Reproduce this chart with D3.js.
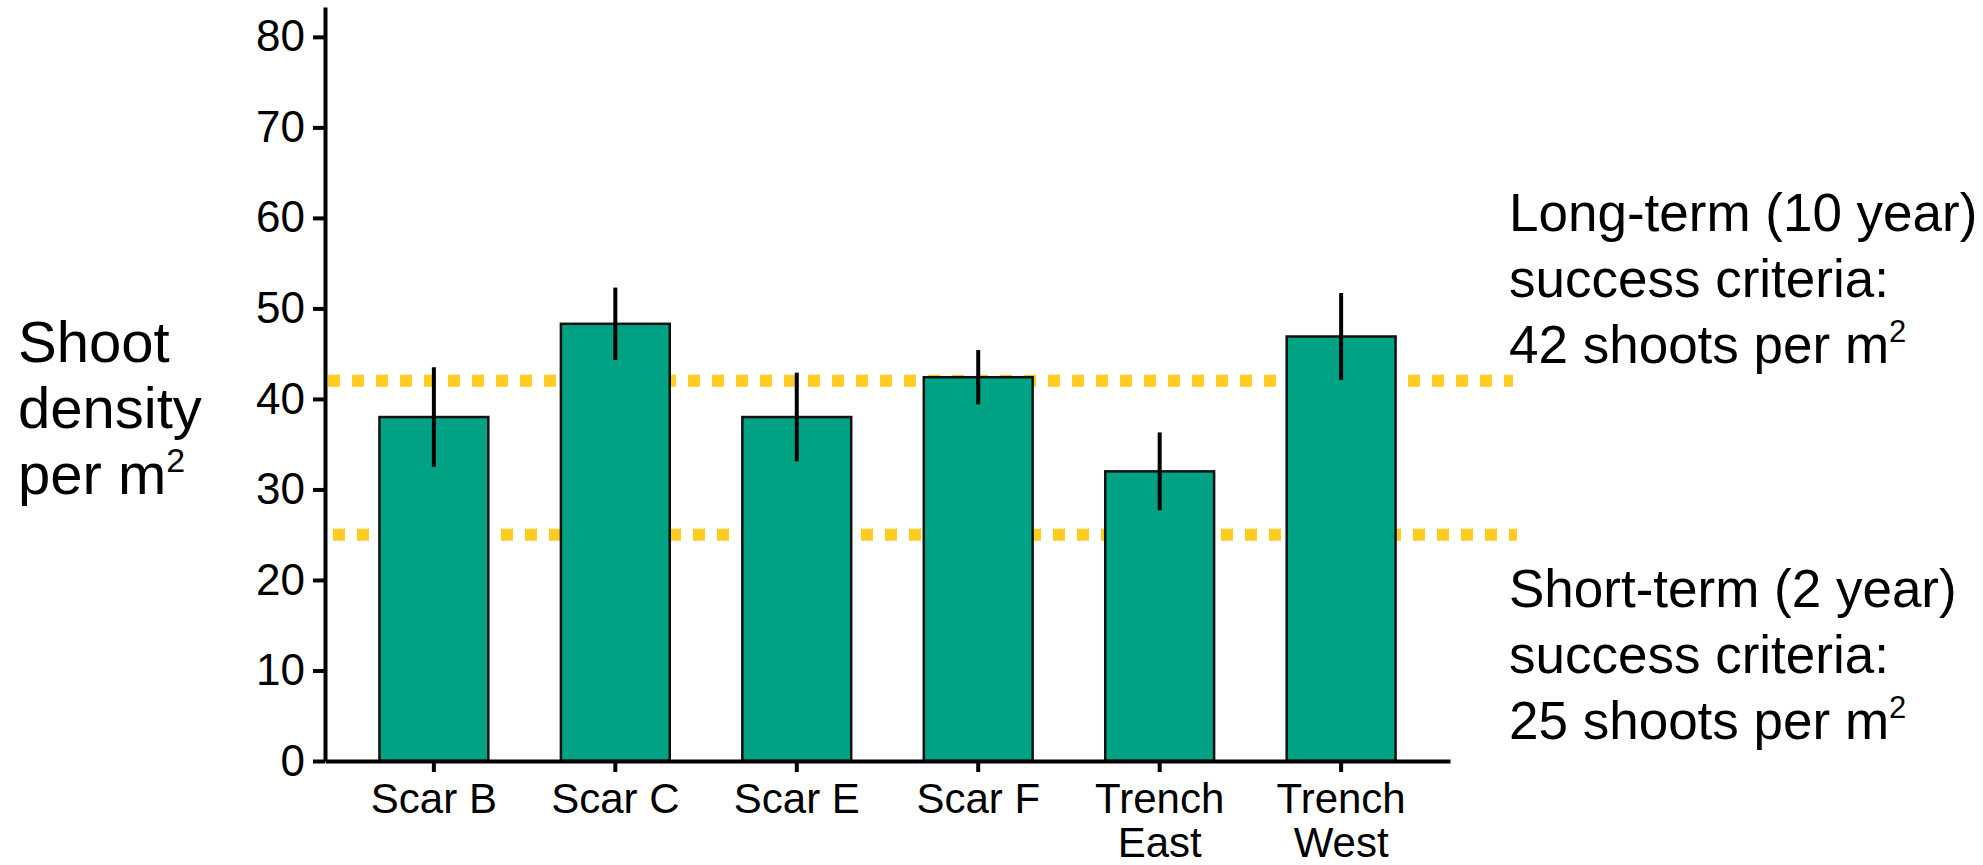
<!DOCTYPE html>
<html>
<head>
<meta charset="utf-8">
<script src="https://cdn.jsdelivr.net/npm/d3@7"></script>
<style>
  html, body { margin: 0; padding: 0; background: #ffffff; }
  svg { display: block; }
  text { font-family: "Liberation Sans", Arial, Helvetica, sans-serif; fill: #000; }
</style>
</head>
<body>
<svg id="chart" width="1983" height="865"></svg>
<script>
// Sites and mean shoot density (shoots per m²) with standard error
const sites = ["Scar B", "Scar C", "Scar E", "Scar F", "Trench East", "Trench West"];
const meanDensity = [38.0, 48.3, 38.0, 42.4, 32.0, 46.9];
const stdError = [5.5, 4.0, 4.9, 3.0, 4.3, 4.8];

// Restoration success thresholds
const thresholdValues = [42, 25];
const thresholdNames = ["Long-term", "Short-term"];
const thresholdLabels = [
  ["Long-term (10 year)", "success criteria:", "42 shoots per m"],
  ["Short-term (2 year)", "success criteria:", "25 shoots per m"]
];

// Axis ticks
const yTicks = [0, 10, 20, 30, 40, 50, 60, 70, 80];
const yMax = 83.3;

const svg = d3.select("#chart");
const plot = { left: 325, right: 1450, top: 7, bottom: 761 };

const x = d3.scaleBand()
  .domain(sites)
  .range([plot.left, plot.right])
  .paddingInner(0.4)
  .paddingOuter(0.3);

const y = d3.scaleLinear()
  .domain([0, yMax])
  .range([plot.bottom, plot.top]);

const data = sites.map((s, i) => ({ site: s, mean: meanDensity[i], se: stdError[i] }));

// Dotted threshold lines (drawn beneath the bars)
const lineExtent = [[328, 1513], [333, 1517]];
svg.append("g").selectAll("line")
  .data(thresholdValues)
  .join("line")
  .attr("x1", (d, i) => lineExtent[i][0])
  .attr("x2", (d, i) => lineExtent[i][1])
  .attr("y1", d => y(d))
  .attr("y2", d => y(d))
  .attr("stroke", "#ffcc22")
  .attr("stroke-width", 12)
  .attr("stroke-dasharray", "12 12");

// Bars
svg.append("g").selectAll("rect")
  .data(data)
  .join("rect")
  .attr("x", d => x(d.site))
  .attr("width", x.bandwidth())
  .attr("y", d => y(d.mean))
  .attr("height", d => y(0) - y(d.mean))
  .attr("fill", "#00a284")
  .attr("stroke", "#111")
  .attr("stroke-width", 2.5);

// Error bars
svg.append("g").selectAll("line")
  .data(data)
  .join("line")
  .attr("x1", d => x(d.site) + x.bandwidth() / 2)
  .attr("x2", d => x(d.site) + x.bandwidth() / 2)
  .attr("y1", d => y(d.mean + d.se))
  .attr("y2", d => y(d.mean - d.se))
  .attr("stroke", "#000")
  .attr("stroke-width", 4);

// Y axis
const yAxis = svg.append("g")
  .attr("transform", `translate(${plot.left},0)`)
  .call(d3.axisLeft(y).tickValues(yTicks).tickSize(12).tickSizeOuter(0).tickPadding(8));
yAxis.select(".domain").attr("stroke", "#000").attr("stroke-width", 4);
yAxis.selectAll(".tick line").attr("stroke", "#000").attr("stroke-width", 4);
yAxis.selectAll(".tick text")
  .attr("font-size", 44)
  .attr("font-family", "Liberation Sans, Arial, sans-serif")
  .attr("fill", "#111");

// X axis
const xAxis = svg.append("g")
  .attr("transform", `translate(0,${plot.bottom})`)
  .call(d3.axisBottom(x).tickSize(11).tickSizeOuter(0).tickPadding(8));
xAxis.select(".domain").attr("stroke", "#000").attr("stroke-width", 4);
xAxis.selectAll(".tick line").attr("stroke", "#000").attr("stroke-width", 4);
xAxis.selectAll(".tick text").each(function(d) {
  const t = d3.select(this);
  const words = d.split(" ");
  const lines = words[0] === "Scar" ? [d] : words;
  t.text(null)
    .attr("font-size", 42)
    .attr("font-family", "Liberation Sans, Arial, sans-serif")
    .attr("fill", "#111")
    .attr("y", 0)
    .attr("dy", null);
  lines.forEach((ln, k) => {
    t.append("tspan")
      .attr("x", 0)
      .attr("y", 52 + k * 44)
      .text(ln);
  });
});

// Y axis title
const yTitle = svg.append("text")
  .attr("font-size", 58)
  .attr("x", 18);
["Shoot", "density"].forEach((w, k) => {
  yTitle.append("tspan").attr("x", 18).attr("y", 362 + k * 66).text(w);
});
yTitle.append("tspan").attr("x", 18).attr("y", 494).text("per m");
yTitle.append("tspan").attr("font-size", 34).attr("dy", -22).text("2");

// Threshold annotations
thresholdLabels.forEach((lines, i) => {
  const top = i === 0 ? 231 : 607;
  const g = svg.append("text")
    .attr("class", "threshold-label " + thresholdNames[i])
    .attr("font-size", 53);
  lines.forEach((ln, k) => {
    g.append("tspan").attr("x", 1509).attr("y", top + k * 66).text(ln);
  });
  g.append("tspan").attr("font-size", 31).attr("dy", -21).text("2");
});
</script>
</body>
</html>
